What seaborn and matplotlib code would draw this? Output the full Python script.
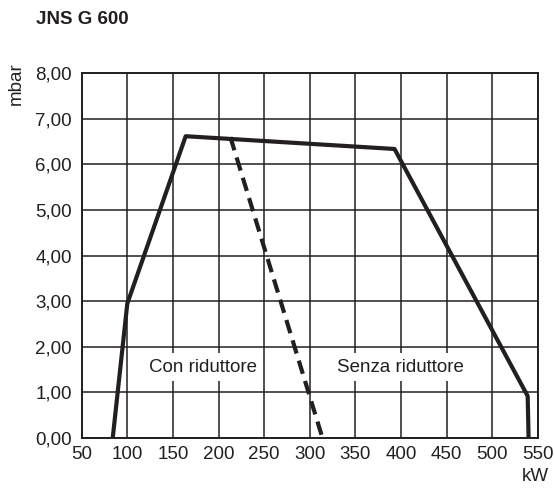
import numpy as np
import pandas as pd
import matplotlib
matplotlib.use("Agg")
import matplotlib.pyplot as plt
import seaborn as sns

# curve data (kW, mbar)
senza_kw = [84, 100, 164, 393, 539, 540]
senza_mbar = [0.0, 2.95, 6.62, 6.34, 0.92, 0.0]
con_kw = [213, 314]
con_mbar = [6.60, 0.0]

x_ticks = [50, 100, 150, 200, 250, 300, 350, 400, 450, 500, 550]
y_ticks = [0, 1, 2, 3, 4, 5, 6, 7, 8]
y_labels = ["0,00", "1,00", "2,00", "3,00", "4,00", "5,00", "6,00", "7,00", "8,00"]

sns.set_style("white")
plt.rcParams['font.family'] = ['Liberation Sans', 'DejaVu Sans']

ink = '#231f20'
df_senza = pd.DataFrame({'kW': senza_kw, 'mbar': senza_mbar})
df_con = pd.DataFrame({'kW': con_kw, 'mbar': con_mbar})

fig = plt.figure(figsize=(5.54, 4.9), dpi=100)
ax = fig.add_axes([0.1475, 0.1061, 0.8231, 0.7443])

sns.lineplot(data=df_senza, x='kW', y='mbar', sort=False, color=ink,
             linewidth=3.0, ax=ax, zorder=3)
sns.lineplot(data=df_con, x='kW', y='mbar', sort=False, color=ink,
             linewidth=3.0, ax=ax, zorder=3)
ax.lines[-1].set_dashes([3.3, 1.8])

ax.set_xlim(50, 550)
ax.set_ylim(0, 8)
ax.set_xticks(x_ticks)
ax.set_yticks(y_ticks)
ax.set_yticklabels(y_labels)
ax.grid(True, color=ink, linewidth=1.1)
ax.set_axisbelow(True)
for s in ax.spines.values():
    s.set_color(ink)
    s.set_linewidth(1.4)
ax.tick_params(length=0, labelsize=13.5, colors=ink)
ax.tick_params(axis='x', pad=6)
ax.tick_params(axis='y', pad=7)
ax.set_xlabel('')
ax.set_ylabel('')

box = dict(facecolor='white', edgecolor='none', pad=4)
ax.text(183, 1.55, 'Con riduttore', fontsize=13.5, ha='center', va='center',
        color=ink, bbox=box, zorder=2)
ax.text(399, 1.55, 'Senza riduttore', fontsize=13.5, ha='center', va='center',
        color=ink, bbox=box, zorder=2)

fig.text(0.065, 0.960, 'JNS G 600', fontsize=13.5, fontweight='bold',
         ha='left', va='center', color=ink)
fig.text(0.030, 0.829, 'mbar', fontsize=13.5, rotation=90, ha='center',
         va='center', color=ink)
fig.text(0.966, 0.027, 'kW', fontsize=13.5, ha='center', va='center',
         color=ink)

fig.savefig('out.png', dpi=100)
